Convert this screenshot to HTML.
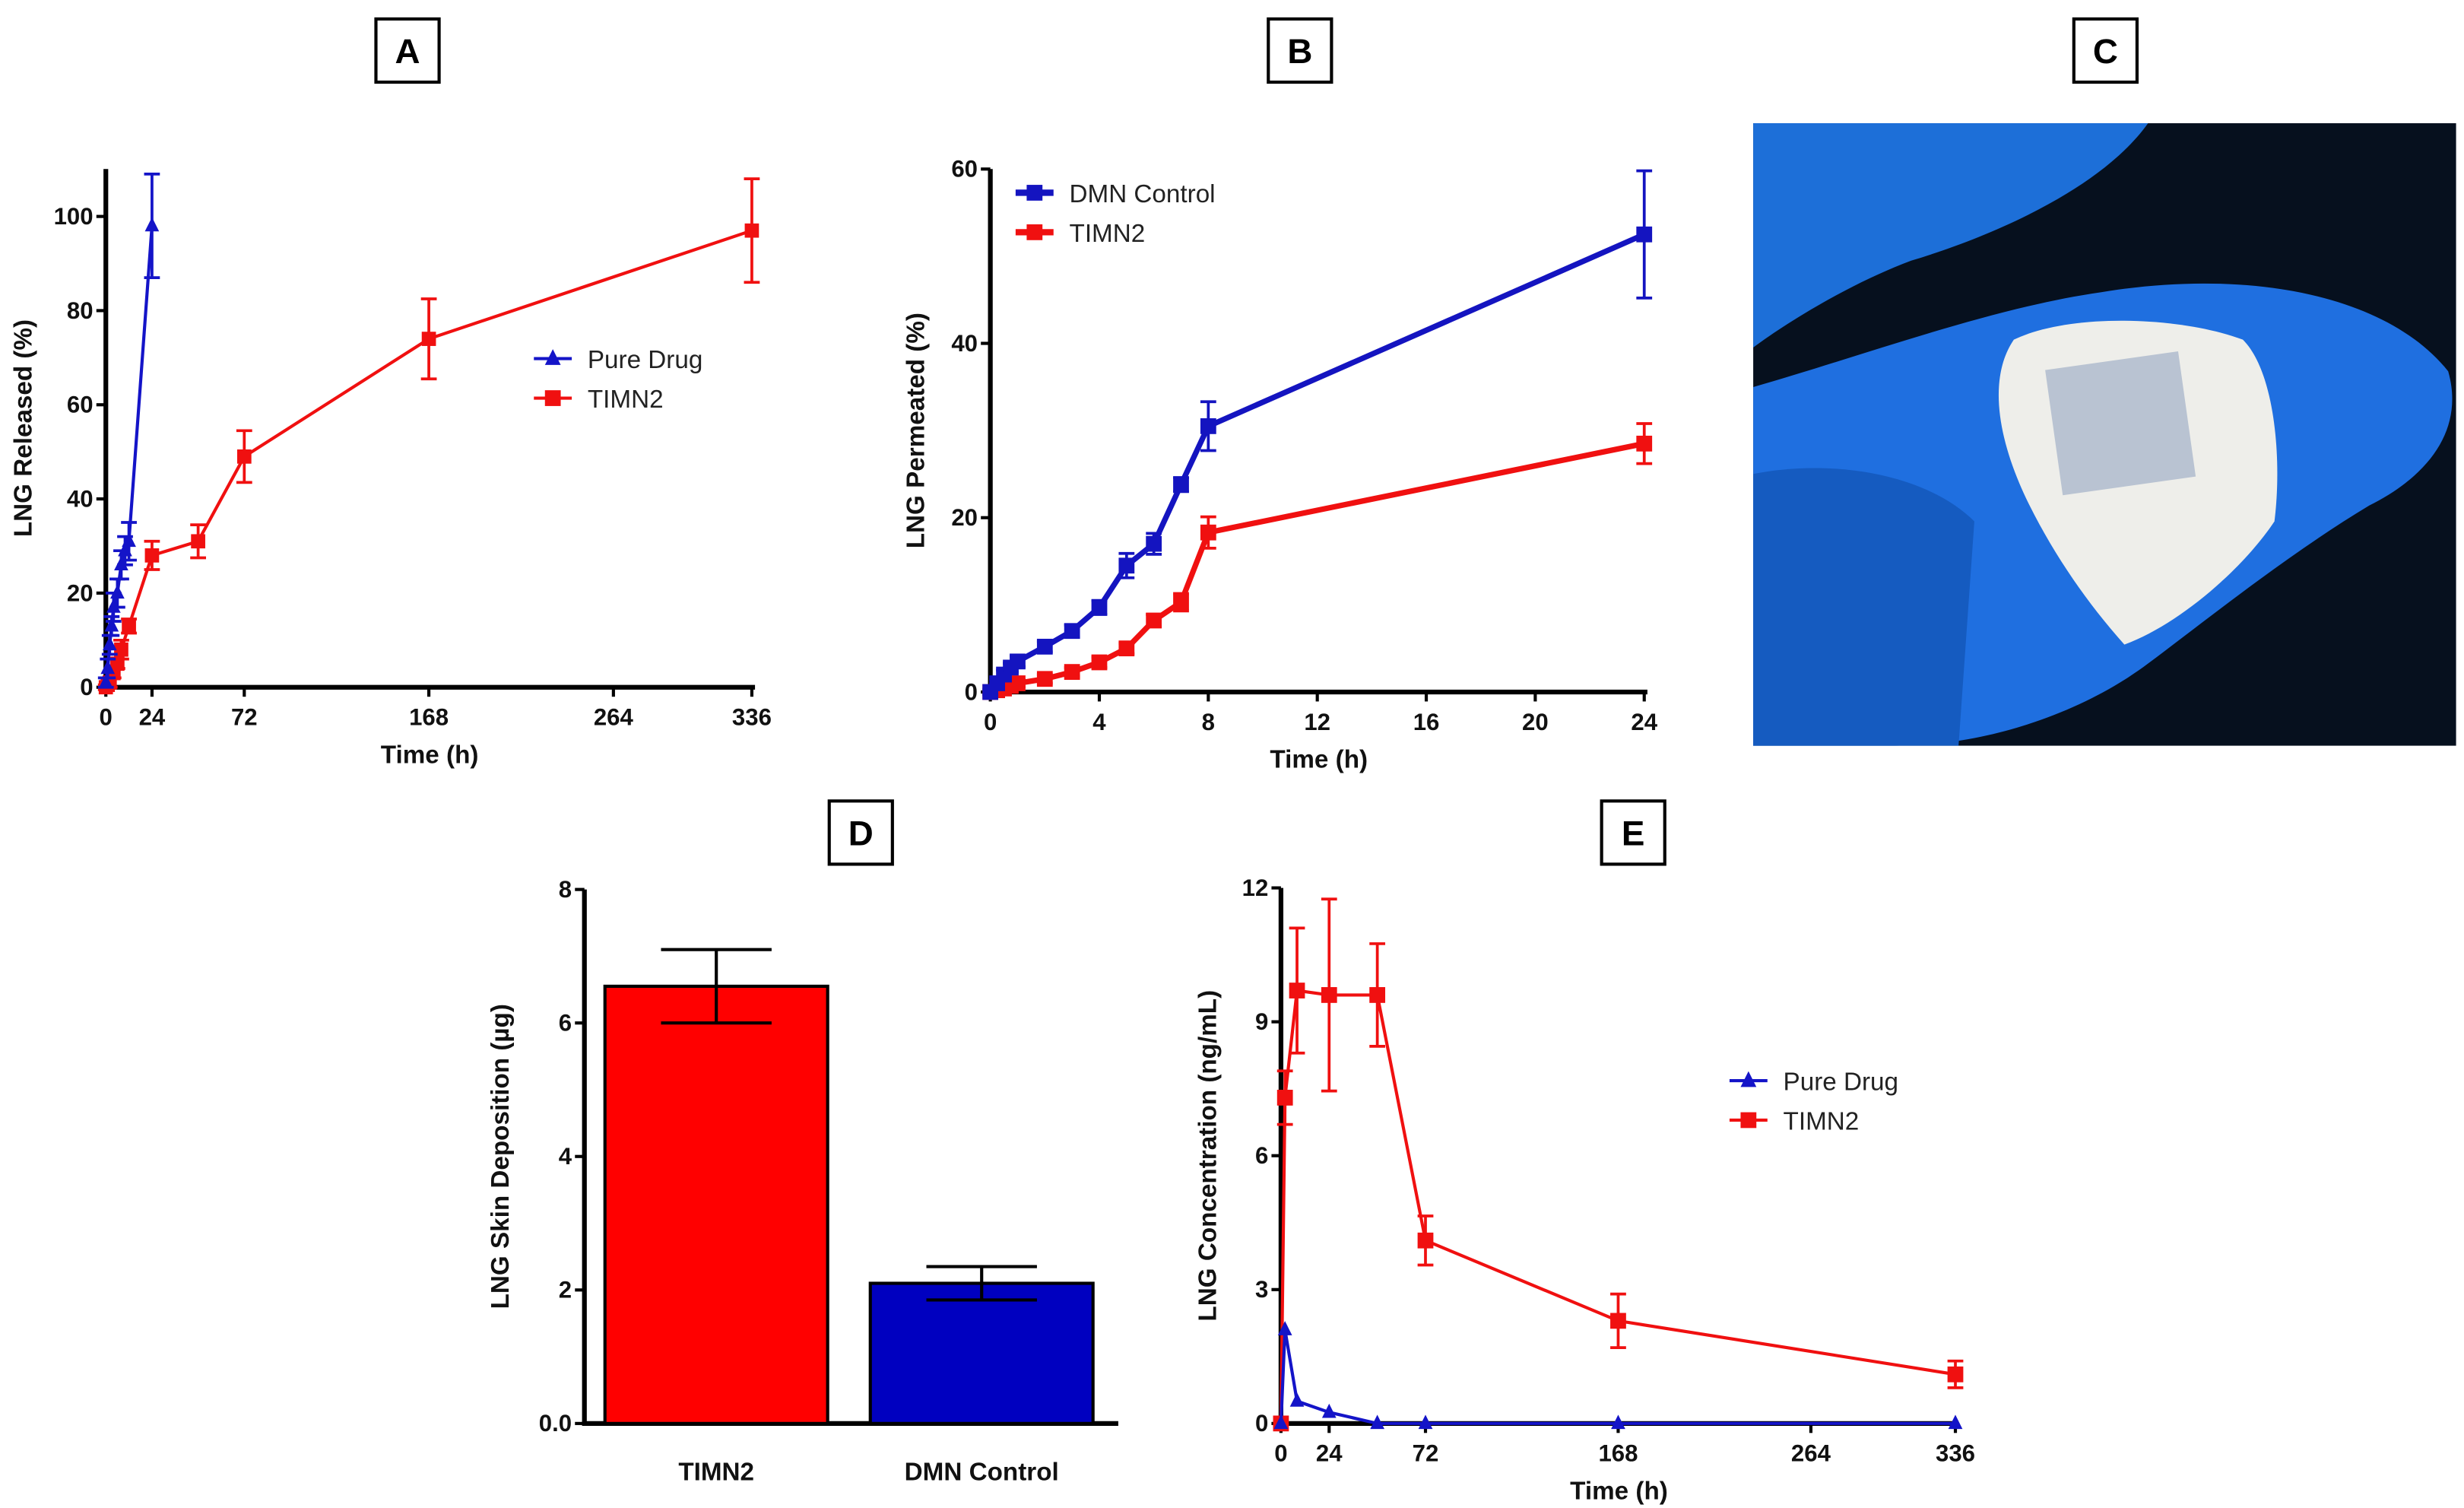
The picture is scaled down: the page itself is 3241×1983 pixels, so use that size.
<!DOCTYPE html>
<html><head><meta charset="utf-8"><style>
html,body{margin:0;padding:0;background:#fff;}
svg{display:block;}
text{font-family:"Liberation Sans",Arial,sans-serif;}
.tk{font-weight:bold;font-size:15px;fill:#111;}
.at{font-weight:bold;font-size:16px;fill:#111;}
.lg{font-size:16px;fill:#222;}
.pl{font-weight:bold;font-size:22px;fill:#000;}
</style></head><body>
<svg id="fig" width="3241" height="1983" viewBox="0 0 1560 954.5" xmlns="http://www.w3.org/2000/svg">
<g id="labels"></g>
<g id="pA"></g>
<g id="pB"></g>
<g id="pC">
 <rect x="1110" y="78" width="445" height="394" fill="#06101e"/>
 <path d="M1110 78 L1360 78 C1330 120 1260 150 1210 165 C1170 180 1130 205 1110 220 Z" fill="#1d6fd8"/>
 <path d="M1110 245 C1180 225 1260 195 1330 185 C1420 170 1510 185 1550 235 C1560 270 1540 300 1500 320 C1450 350 1400 390 1360 420 C1320 450 1260 472 1200 472 L1110 472 Z" fill="#1f6fe0"/>
 <path d="M1110 300 C1160 290 1220 300 1250 330 L1240 472 L1110 472 Z" fill="#155bc0"/>
 <path d="M1275 215 C1310 198 1380 200 1420 215 C1440 235 1445 290 1440 330 C1420 360 1380 395 1345 408 C1320 380 1300 350 1285 320 C1265 280 1258 240 1275 215 Z" fill="#eeeeea"/>
 <rect x="1300" y="228" width="85" height="80" fill="#b9c3d2" transform="rotate(-8 1342 268)"/>
</g>
<g id="pD"></g>
<g id="pE"></g>
</svg>
<script>
// ---------- data ----------
const aBlueT=[0,1,2,3,4,6,8,10,12,24];
const aBlueV=[1,4,9,13,17,20,26,29,31,98];
const aBlueE=[1,2,2,2,3,3,3,3,4,11];
const aRedT=[0,1,2,4,6,8,12,24,48,72,168,336];
const aRedV=[0,0.5,1,3,5,8,13,28,31,49,74,97];
const aRedE=[0.5,0.5,1,1,1,2,1.5,3,3.5,5.5,8.5,11];
const aXTicks=[0,24,72,168,264,336];
const aYTicks=[0,20,40,60,80,100];

const bT=[0,0.25,0.5,0.75,1,2,3,4,5,6,7,8,24];
const bBlueV=[0,1,2,2.8,3.5,5.2,7,9.7,14.5,17,23.8,30.5,52.5];
const bBlueE=[0.3,0.4,0.5,0.5,0.6,0.6,0.7,0.8,1.4,1.2,0.8,2.8,7.3];
const bRedV=[0,0.2,0.4,0.7,1,1.5,2.3,3.4,5,8.2,10.3,18.3,28.5];
const bRedE=[0.2,0.2,0.3,0.3,0.4,0.5,0.5,0.6,0.6,0.7,1,1.8,2.3];
const bXTicks=[0,4,8,12,16,20,24];
const bYTicks=[0,20,40,60];

const dCats=["TIMN2","DMN Control"];
const dVals=[6.55,2.1];
const dErrs=[0.55,0.25];
const dYTicks=[0,2,4,6,8];
const dYLabels=["0.0","2","4","6","8"];

const eT=[0,2,8,24,48,72,168,336];
const eRedV=[0,7.3,9.7,9.6,9.6,4.1,2.3,1.1];
const eRedE=[0,0.6,1.4,2.15,1.15,0.55,0.6,0.3];
const eBlueV=[0,2.1,0.5,0.25,0,0,0,0];
const eXTicks=[0,24,72,168,264,336];
const eYTicks=[0,3,6,9,12];

// ---------- helpers ----------
const NS="http://www.w3.org/2000/svg";
function mk(parent,tag,attrs,txt){const e=document.createElementNS(NS,tag);for(const k in attrs)e.setAttribute(k,attrs[k]);if(txt!==undefined)e.textContent=txt;parent.appendChild(e);return e;}
function lin(d0,d1,r0,r1){return v=>r0+(v-d0)/(d1-d0)*(r1-r0);}

function axes(g,X,Y,xt,yt,x0,x1,y0,y1,xlab,ylab,ylabX,opts){
  const ax=mk(g,'g',{});
  
  
  mk(ax,'line',{x1:X(x0),y1:Y(y0),x2:X(x0),y2:opts.ytop,stroke:'#000','stroke-width':3});
  mk(ax,'line',{x1:X(x0)-1.5,y1:Y(y0),x2:opts.xend,y2:Y(y0),stroke:'#000','stroke-width':3});
  yt.forEach((v,i)=>{mk(ax,'line',{x1:X(x0)-6,y1:Y(v),x2:X(x0),y2:Y(v),stroke:'#000','stroke-width':2});
    const t=mk(ax,'text',{x:X(x0)-8,y:Y(v)+5,'text-anchor':'end',class:'tk'},opts.ylabels?opts.ylabels[i]:v);
    });
  (xt||[]).forEach(v=>{mk(ax,'line',{x1:X(v),y1:Y(y0),x2:X(v),y2:Y(y0)+6,stroke:'#000','stroke-width':2});
    const t=mk(ax,'text',{x:X(v),y:Y(y0)+24,'text-anchor':'middle',class:'tk'},v);
    });
  if(xlab){const t=mk(ax,'text',{x:opts.xlabX,y:Y(y0)+48,'text-anchor':'middle',class:'at'},xlab);
    }
  const cy=(opts.ytop+Y(y0))/2;
  const t=mk(ax,'text',{x:ylabX,y:cy,'text-anchor':'middle',class:'at',transform:`rotate(-90 ${ylabX} ${cy})`},ylab);
  
}
function marker(g,shape,x,y,c,s){
  if(shape==='sq')return mk(g,'rect',{x:x-s,y:y-s,width:2*s,height:2*s,fill:c});
  return mk(g,'path',{d:`M${x} ${y-s-1}L${x+s} ${y+s-1}L${x-s} ${y+s-1}Z`,fill:c});
}
function series(g,name,X,Y,ts,vs,es,c,shape,sw,ms){
  const sg=mk(g,'g',{});
  
  
  mk(sg,'polyline',{points:ts.map((t,i)=>X(t)+','+Y(vs[i])).join(' '),fill:'none',stroke:c,'stroke-width':sw,'stroke-linejoin':'round'});
  ts.forEach((t,i)=>{
    if(es&&es[i]>0){const x=X(t);mk(sg,'path',{d:`M${x} ${Y(vs[i]-es[i])}V${Y(vs[i]+es[i])}M${x-5} ${Y(vs[i]-es[i])}H${x+5}M${x-5} ${Y(vs[i]+es[i])}H${x+5}`,stroke:c,'stroke-width':1.8,fill:'none'});}
    const m=marker(sg,shape,X(t),Y(vs[i]),c,ms);
    
    
  });
}
function legend(g,x,y,items,sw){
  items.forEach((it,i)=>{
    const lg=mk(g,'g',{});
    
    
    const yy=y+i*25;
    mk(lg,'line',{x1:x,y1:yy,x2:x+24,y2:yy,stroke:it.c,'stroke-width':sw});
    marker(lg,it.s,x+12,yy,it.c,5);
    mk(lg,'text',{x:x+34,y:yy+6,class:'lg'},it.n);
  });
}

// ---------- panel labels ----------
const L=document.getElementById('labels');
[["A",258,32],["B",823,32],["C",1333,32],["D",545,527],["E",1034,527]].forEach(p=>{
  const g=mk(L,'g',{});
  
  
  mk(g,'rect',{x:p[1]-20,y:p[2]-20,width:40,height:40,fill:'#fff',stroke:'#000','stroke-width':2});
  mk(g,'text',{x:p[1],y:p[2]+8,'text-anchor':'middle',class:'pl'},p[0]);
});

// ---------- Panel A ----------
{const g=document.getElementById('pA');
 const X=lin(0,336,67,476),Y=lin(0,100,435,137);
 axes(g,X,Y,aXTicks,aYTicks,0,336,0,100,'Time (h)','LNG Released (%)',20,{ytop:107,xend:478,xlabX:272});
 series(g,'series-timn2',X,Y,aRedT,aRedV,aRedE,'#f01010','sq',2,4.5);
 series(g,'series-pure-drug',X,Y,aBlueT,aBlueV,aBlueE,'#1414c8','tri',2,4.5);
 legend(g,338,227,[{n:'Pure Drug',c:'#1414c8',s:'tri'},{n:'TIMN2',c:'#f01010',s:'sq'}],2);}

// ---------- Panel B ----------
{const g=document.getElementById('pB');
 const X=lin(0,24,627,1041),Y=lin(0,60,438,107);
 axes(g,X,Y,bXTicks,bYTicks,0,24,0,60,'Time (h)','LNG Permeated (%)',585,{ytop:107,xend:1043,xlabX:835});
 series(g,'series-timn2',X,Y,bT,bRedV,bRedE,'#f01010','sq',3.5,5);
 series(g,'series-dmn-control',X,Y,bT,bBlueV,bBlueE,'#1414c0','sq',3.5,5);
 legend(g,643,122,[{n:'DMN Control',c:'#1414c0',s:'sq'},{n:'TIMN2',c:'#f01010',s:'sq'}],4);}

// ---------- Panel D ----------
{const g=document.getElementById('pD');
 const Y=lin(0,8,901,563);
 const bx=[383,551],bw=141,colors=['#ff0000','#0000c0'];
 axes(g,v=>370,Y,[],dYTicks,0,0,0,8,'','LNG Skin Deposition (µg)',322,{ytop:563,xend:708,ylabels:dYLabels});
 dCats.forEach((c,i)=>{
   const r=mk(g,'rect',{x:bx[i],y:Y(dVals[i]),width:bw,height:Y(0)-Y(dVals[i]),fill:colors[i],stroke:'#000','stroke-width':2});
   
   
   const cx=bx[i]+bw/2;
   mk(g,'path',{d:`M${cx} ${Y(dVals[i]-dErrs[i])}V${Y(dVals[i]+dErrs[i])}M${cx-35} ${Y(dVals[i]+dErrs[i])}H${cx+35}M${cx-35} ${Y(dVals[i]-dErrs[i])}H${cx+35}`,stroke:'#000','stroke-width':2,fill:'none'});
   const t=mk(g,'text',{x:cx,y:937,'text-anchor':'middle',class:'at'},c);
   
   
 });}

// ---------- Panel E ----------
{const g=document.getElementById('pE');
 const X=lin(0,336,811,1238),Y=lin(0,12,901,562);
 axes(g,X,Y,eXTicks,eYTicks,0,336,0,12,'Time (h)','LNG Concentration (ng/mL)',770,{ytop:562,xend:1240,xlabX:1025});
 series(g,'series-timn2',X,Y,eT,eRedV,eRedE,'#f01010','sq',2,5);
 series(g,'series-pure-drug',X,Y,eT,eBlueV,null,'#1414c8','tri',2,4.5);
 legend(g,1095,684,[{n:'Pure Drug',c:'#1414c8',s:'tri'},{n:'TIMN2',c:'#f01010',s:'sq'}],2);}
</script>
</body></html>
